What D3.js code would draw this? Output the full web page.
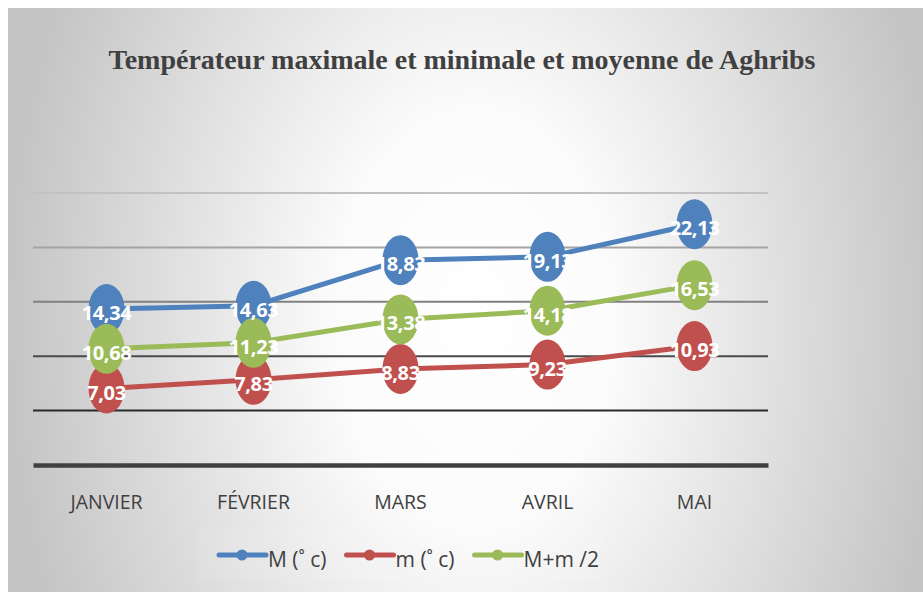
<!DOCTYPE html>
<html><head><meta charset="utf-8">
<script src="https://cdn.jsdelivr.net/npm/d3@7"></script>
<style>html,body{margin:0;padding:0;background:#fff;}svg{display:block;}</style>
</head><body>
<svg id="chart" width="923" height="592"></svg>
<script>
const months = ["JANVIER", "FÉVRIER", "MARS", "AVRIL", "MAI"];
const maxTemp = [14.34, 14.63, 18.83, 19.13, 22.13];
const minTemp = [7.03, 7.83, 8.83, 9.23, 10.93];
const meanTemp = [10.68, 11.23, 13.38, 14.18, 16.53];
const seriesNames = ["M (\u02DA c)", "m (\u02DA c)", "M+m /2"];
const yTicks = [0, 5, 10, 15, 20, 25];
const title = "Températeur maximale et minimale et moyenne de Aghribs";

const colors = ["#4F81BD", "#C0504D", "#9BBB59"];
const gridColors = {5: "#2a2a2a", 10: "#4a4a4a", 15: "#808080", 20: "#a4a4a4", 25: "#c2c2c2"};

const svg = d3.select("#chart");
const W = 923, H = 592;

// background
const defs = svg.append("defs");
const rg = defs.append("radialGradient").attr("id", "bg")
  .attr("gradientUnits", "userSpaceOnUse")
  .attr("cx", 475).attr("cy", 320).attr("r", 470).attr("fx", 475).attr("fy", 320)
  .attr("gradientTransform", "translate(475,320) scale(1,1.5) translate(-475,-320)");
rg.append("stop").attr("offset", "0").attr("stop-color", "#ffffff");
rg.append("stop").attr("offset", "0.3").attr("stop-color", "#fbfbfb");
rg.append("stop").attr("offset", "1").attr("stop-color", "#c4c4c4");
svg.append("rect").attr("x", 8).attr("y", 8).attr("width", W - 8).attr("height", H - 8).attr("fill", "url(#bg)");

const x = d3.scaleBand().domain(months).range([33, 768]);
const y = d3.scaleLinear().domain([0, 25]).range([465, 193]);

// title
svg.append("text").attr("x", 462).attr("y", 69).attr("text-anchor", "middle")
  .attr("font-family", "Liberation Serif, Times New Roman, serif").attr("font-weight", "bold")
  .attr("font-size", 28).attr("fill", "#404040").text(title);

// gridlines
const grid = svg.append("g");
yTicks.filter(t => t > 0).forEach(t => {
  grid.append("line").attr("x1", 33).attr("x2", 768).attr("y1", y(t)).attr("y2", y(t))
    .attr("stroke", gridColors[t]).attr("stroke-width", 2);
});
// x axis
const xAxis = svg.append("g").attr("transform", `translate(0,${y(0)})`)
  .call(d3.axisBottom(x).tickSize(0).tickPadding(30));
xAxis.select(".domain").attr("stroke", "#404040").attr("stroke-width", 4.5);
xAxis.selectAll("text").attr("font-family", "Open Sans, sans-serif").attr("font-size", 19.5)
  .attr("fill", "#404040");

const series = [maxTemp, minTemp, meanTemp];
const line = d3.line().x((d, i) => x(months[i]) + x.bandwidth() / 2).y(d => y(d));
series.forEach((s, k) => {
  svg.append("path").datum(s).attr("d", line).attr("fill", "none")
    .attr("stroke", colors[k]).attr("stroke-width", 5).attr("stroke-linejoin", "round");
});
series.forEach((s, k) => {
  svg.append("g").selectAll("ellipse").data(s).join("ellipse")
    .attr("cx", (d, i) => x(months[i]) + x.bandwidth() / 2).attr("cy", d => y(d))
    .attr("rx", 18).attr("ry", 25).attr("fill", colors[k]);
});
const fmt = d => d3.format(".2f")(d).replace(".", ",");
series.forEach((s, k) => {
  svg.append("g").selectAll("text").data(s).join("text")
    .attr("x", (d, i) => x(months[i]) + x.bandwidth() / 2).attr("y", d => y(d) + 11)
    .attr("text-anchor", "middle").attr("font-family", "Open Sans, sans-serif")
    .attr("font-weight", "bold").attr("font-size", 20).attr("letter-spacing", -0.4)
    .attr("fill", "#ffffff").text(fmt);
});

// legend
svg.append("rect").attr("x", 197).attr("y", 530).attr("width", 405).attr("height", 50)
  .attr("fill", "#ffffff").attr("opacity", 0.08);
let lx = 219;
const ly = 555;
seriesNames.forEach((name, k) => {
  const g = svg.append("g");
  g.append("line").attr("x1", lx).attr("x2", lx + 47).attr("y1", ly).attr("y2", ly)
    .attr("stroke", colors[k]).attr("stroke-width", 5).attr("stroke-linecap", "round");
  g.append("circle").attr("cx", lx + 23).attr("cy", ly).attr("r", 5.5).attr("fill", colors[k]);
  const t = g.append("text").attr("x", lx + 49).attr("y", ly + 12)
    .attr("font-family", "Open Sans, sans-serif").attr("font-size", 21).attr("fill", "#404040").text(name);
  lx = lx + 49 + t.node().getComputedTextLength() + 20;
});
</script>
</body></html>
